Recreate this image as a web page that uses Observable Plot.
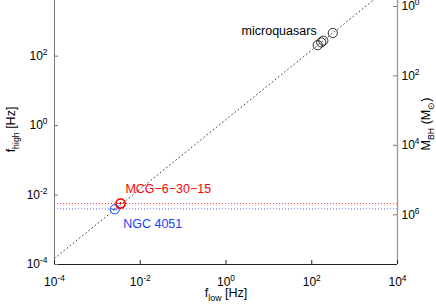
<!DOCTYPE html>
<html><head><meta charset="utf-8">
<script src="https://cdn.jsdelivr.net/npm/d3@7"></script>
<script src="https://cdn.jsdelivr.net/npm/@observablehq/plot@0.6"></script>
<style>
body{margin:0;background:#fff}
svg{font-family:"Liberation Sans",Arial,sans-serif}
</style>
</head><body><div id="chart"></div>
<script>
// ---- data ----
const xTicks = [1e-4, 1e-2, 1, 1e2, 1e4];
const xTickLabels = ["10^{-4}", "10^{-2}", "10^{0}", "10^{2}", "10^{4}"];
const yTicks = [1e-4, 1e-2, 1, 1e2];
const yTickLabels = ["10^{-4}", "10^{-2}", "10^{0}", "10^{2}"];
const massTicks = [1, 1e2, 1e4, 1e6];
const massTickLabels = ["10^{0}", "10^{2}", "10^{4}", "10^{6}"];
const massFreqConst = 2700; // f_high [Hz] ≈ const / M_BH
const ratioFLow = [1e-4, 1e4];
const ratioFHigh = [1.5e-4, 1.5e4]; // 3:2 line
const microFLow = [138, 166, 186, 310];
const microFHigh = [207, 249, 279, 465];
const agnNames = ["MCG−6−30−15", "NGC 4051"];
const agnFLow = [3.47e-3, 2.55e-3];
const agnFHigh = [5.69e-3, 3.9e-3];
const agnFHighLine = [5.69e-3, 4.0e-3];
const agnFLowErr = [[3.15e-3, 3.8e-3], [2.2e-3, 2.95e-3]];
const agnFHighErr = [[5.3e-3, 6.1e-3], [3.9e-3, 3.9e-3]];
const agnColors = ["#ff0000", "#2040ff"];
const agnLabelX = [4.5e-3, 4.0e-3];
const agnLabelY = [1.54e-2, 1.5e-3];
const microLabel = "microquasars";
const microLabelX = 130, microLabelY = 540;

// ---- tables ----
const micro = microFLow.map((x, i) => ({x, y: microFHigh[i]}));
const agn = agnNames.map((name, i) => ({
  name, x: agnFLow[i], y: agnFHigh[i], yl: agnFHighLine[i], color: agnColors[i],
  x1: agnFLowErr[i][0], x2: agnFLowErr[i][1], y1: agnFHighErr[i][0], y2: agnFHighErr[i][1],
  lx: agnLabelX[i], ly: agnLabelY[i], sw: i === 0 ? 1.7 : 1
}));
const xLab = new Map(xTicks.map((t, i) => [t, xTickLabels[i]]));
const yLab = new Map(yTicks.map((t, i) => [t, yTickLabels[i]]));
const mTicks = massTicks.map(m => massFreqConst / m);
const mLab = new Map(mTicks.map((t, i) => [t, massTickLabels[i]]));

const W = 436, H = 305, mL = 54, mR = 39, mB = 41, mT = 0;
const iw = W - mL - mR, ih = H - mT - mB;

const plot = Plot.plot({
  width: W, height: H,
  marginLeft: mL, marginRight: mR, marginTop: mT, marginBottom: mB,
  style: {fontSize: "12px", fontFamily: "Liberation Sans, Arial, sans-serif", background: "#fff", color: "#000"},
  x: {type: "log", domain: [1e-4, 1e4]},
  y: {type: "log", domain: [1e-4, 4e3]},
  marks: [
    // reference lines
    Plot.ruleY(agn, {y: "yl", stroke: "color", strokeDasharray: "1,2", strokeWidth: 1, strokeOpacity: 0.75}),
    Plot.line(ratioFLow.map((x, i) => ({x, y: ratioFHigh[i]})), {x: "x", y: "y", stroke: "#444", strokeDasharray: "1,3", strokeWidth: 1, clip: true}),
    // axis lines
    Plot.ruleY([1e-4], {stroke: "#222"}),
    Plot.ruleX([1e-4], {stroke: "#777"}),
    Plot.ruleX([1e4], {stroke: "#9a9a9a", strokeWidth: 1.3}),
    // inward ticks
    Plot.tickX(xTicks, {x: d => d, insetTop: ih - 4, stroke: "#222"}),
    Plot.tickY(yTicks, {y: d => d, insetRight: iw - 4, stroke: "#777"}),
    Plot.tickY(mTicks, {y: d => d, insetLeft: iw - 4, stroke: "#777"}),
    // tick labels
    Plot.axisX(xTicks, {anchor: "bottom", tickSize: 0, tickPadding: 13, tickFormat: d => xLab.get(d), label: null}),
    Plot.axisY(yTicks, {anchor: "left", tickSize: 0, tickPadding: 7, tickFormat: d => yLab.get(d), label: null}),
    Plot.text(mTicks, {y: d => d, frameAnchor: "right", text: d => mLab.get(d), textAnchor: "start", dx: 4, fontSize: 12}),
    // data
    Plot.dot(micro, {x: "x", y: "y", r: 4.6, stroke: "#000", strokeWidth: 0.8}),
    Plot.ruleY(agn, {y: "y", x1: "x1", x2: "x2", stroke: "color", strokeWidth: 1}),
    Plot.ruleX(agn, {x: "x", y1: "y1", y2: "y2", stroke: "color", strokeWidth: 1}),
    Plot.dot(agn, {x: "x", y: "y", r: 4.6, stroke: "color", strokeWidth: "sw"}),
    // annotations
    Plot.text(agn, {x: "lx", y: "ly", text: "name", fill: "color", textAnchor: "start", fontSize: 12.5}),
    Plot.text([microLabel], {x: microLabelX, y: microLabelY, text: d => d, textAnchor: "end", fontSize: 12.5}),
    // axis titles
    Plot.text(["f_{low} [Hz]"], {frameAnchor: "bottom", text: d => d, dy: 32, textAnchor: "middle", fontSize: 12.5}),
    Plot.text(["f_{high} [Hz]"], {frameAnchor: "left", text: d => d, dx: -44, dy: -3, rotate: -90, textAnchor: "middle", fontSize: 12.5}),
    Plot.text(["M_{BH} (M_{⊙})"], {frameAnchor: "right", text: d => d, dx: 28, dy: -8.5, rotate: -90, textAnchor: "middle", fontSize: 12.5})
  ]
});

function richify(el) {
  const s = el.textContent;
  if (!/[\^_]\{/.test(s)) return;
  const parts = s.split(/([\^_]\{[^}]*\})/);
  el.textContent = "";
  let shift = 0;
  for (const p of parts) {
    if (!p) continue;
    const m = p.match(/^([\^_])\{([^}]*)\}$/);
    const t = document.createElementNS("http://www.w3.org/2000/svg", "tspan");
    let d = 0;
    if (m) {
      d = m[1] === "^" ? -5 : 4.5;
      t.setAttribute("font-size", "0.7em");
      t.textContent = m[2];
    } else {
      t.textContent = p;
    }
    if (d - shift !== 0) t.setAttribute("dy", d - shift);
    shift = d;
    el.appendChild(t);
  }
}
d3.select(plot).selectAll("text").each(function() { richify(this); });
document.getElementById("chart").appendChild(plot);
</script>
</body></html>
